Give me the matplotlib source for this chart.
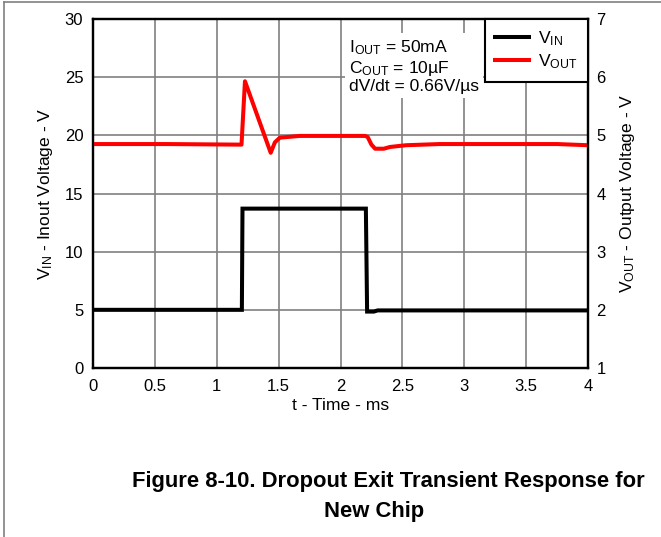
import matplotlib
matplotlib.use("Agg")
import matplotlib.pyplot as plt
from matplotlib.lines import Line2D

plt.rcParams['font.family'] = ['Liberation Sans', 'DejaVu Sans']
plt.rcParams['mathtext.fontset'] = 'custom'
plt.rcParams['mathtext.rm'] = 'Liberation Sans'
plt.rcParams['mathtext.it'] = 'Liberation Sans:italic'
plt.rcParams['mathtext.bf'] = 'Liberation Sans:bold'

# input voltage (left axis), time in ms
t_in = [0.0, 1.203, 1.208, 2.205, 2.215, 2.27, 2.30, 4.0]
v_in = [5.0, 5.0, 13.7, 13.7, 4.85, 4.85, 4.95, 4.95]

# output voltage (right axis)
t_out = [0.0, 0.6, 1.20, 1.228, 1.436, 1.47, 1.51, 1.67, 2.20, 2.22,
         2.25, 2.28, 2.35, 2.40, 2.53, 2.80, 3.30, 3.75, 4.0]
v_out = [4.85, 4.85, 4.84, 5.93, 4.70, 4.88, 4.96, 4.99, 4.99, 4.97,
         4.84, 4.77, 4.77, 4.80, 4.83, 4.85, 4.85, 4.85, 4.83]

x_ticks = [0, 0.5, 1, 1.5, 2, 2.5, 3, 3.5, 4]
x_labels = ['0', '0.5', '1', '1.5', '2', '2.5', '3', '3.5', '4']
left_ticks = [0, 5, 10, 15, 20, 25, 30]
right_ticks = [1, 2, 3, 4, 5, 6, 7]

fs = 12
fs_lab = 12.6

fig = plt.figure(figsize=(6.61, 5.37), dpi=100)
ax = fig.add_axes([93 / 661, 1 - 368 / 537, 495 / 661, 349 / 537])
ax2 = ax.twinx()

ax.set_xlim(0, 4)
ax.set_ylim(0, 30)
ax2.set_ylim(1, 7)
ax.set_xticks(x_ticks)
ax.set_xticklabels(x_labels)
ax.set_yticks(left_ticks)
ax2.set_yticks(right_ticks)
ax.grid(True, color='#808080', linewidth=1.2)
ax.set_axisbelow(True)

ax.tick_params(axis='both', length=0, labelsize=fs)
ax.tick_params(axis='x', pad=8)
ax.tick_params(axis='y', pad=7)
ax2.tick_params(axis='y', length=0, labelsize=fs, pad=6)
for a in (ax, ax2):
    for s in a.spines.values():
        s.set_linewidth(1.6)
        s.set_color('black')

ax.plot(t_in, v_in, color='black', linewidth=2.9, solid_joinstyle='miter')
ax2.plot(t_out, v_out, color='#ff0000', linewidth=2.9)

ax.set_xlabel('t - Time - ms', fontsize=fs_lab, labelpad=3)
ax.set_ylabel(r'V$_{\mathregular{IN}}$ - Inout Voltage - V', fontsize=fs_lab, labelpad=7)
ax2.set_ylabel(r'V$_{\mathregular{OUT}}$ - Output Voltage - V', fontsize=fs_lab, labelpad=9)

handles = [Line2D([], [], color='black', linewidth=2.9),
           Line2D([], [], color='#ff0000', linewidth=2.9)]
leg = ax2.legend(handles, [r'V$_{\mathregular{IN}}$', r'V$_{\mathregular{OUT}}$'],
                 loc='upper right', fontsize=fs_lab, frameon=True, fancybox=False,
                 borderaxespad=0, handlelength=1.9, handletextpad=0.55,
                 labelspacing=0.25, borderpad=0.6, framealpha=1)
leg.get_frame().set_edgecolor('black')
leg.get_frame().set_linewidth(1.5)

ax2.text(2.07, 28.3 / 5 + 1, 'I$_{\\mathregular{OUT}}$ = 50mA\nC$_{\\mathregular{OUT}}$ = 10\u00b5F\ndV/dt = 0.66V/\u00b5s',
         fontsize=fs_lab, va='top', ha='left', linespacing=1.1,
         bbox=dict(facecolor='white', edgecolor='none', pad=3))

fig.text(0.587, 1 - 481 / 537, 'Figure 8-10. Dropout Exit Transient Response for',
         ha='center', va='center', fontsize=15.8, fontweight='bold')
fig.text(0.566, 1 - 512 / 537, 'New Chip',
         ha='center', va='center', fontsize=15.8, fontweight='bold')

# outer frame of the page
fig.add_artist(Line2D([4 / 661, 4 / 661], [0, 1 - 2 / 537], transform=fig.transFigure,
                      color='#808080', linewidth=1.2))
fig.add_artist(Line2D([4 / 661, 1], [1 - 2 / 537, 1 - 2 / 537], transform=fig.transFigure,
                      color='#808080', linewidth=1.2))

fig.savefig('out.png', dpi=100)
